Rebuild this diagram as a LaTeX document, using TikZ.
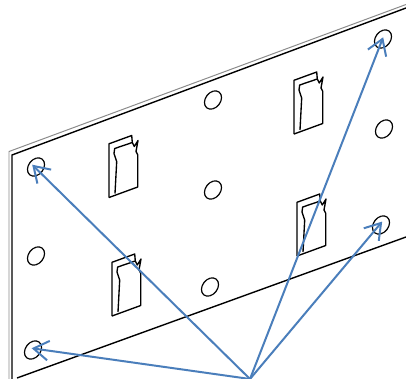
\documentclass[tikz,border=0pt]{standalone}
\usetikzlibrary{shapes.geometric,calc}
\definecolor{arrowblue}{HTML}{4A7EBB}
\tikzset{
  hole/.style={draw=black,line width=1.2pt,ellipse,inner sep=0pt,minimum width=20bp,minimum height=15bp,rotate=52},
  edgeline/.style={draw=black,line width=1.4pt},
  greyline/.style={draw=black!45,line width=1pt},
  pointer/.style={draw=arrowblue,line width=2pt,line join=miter},
  pics/clipshape/.style={code={
    \draw[line width=1.35pt,line join=round] (0,0) -- (0,-53.7) -- (22.7,-62) -- (23.3,-55) -- (5.7,-49) -- (5,-44) -- (7.7,-36) -- (6,-4);
    \draw[line width=1.35pt,line join=round] (23.3,-55) -- (25.3,-51) -- (29,-57) -- (27,-46) -- (28.7,-42.7) -- (28.7,-10.5) -- (0,0);
  }}
}
\newcommand{\pointerto}[2]{%
  \draw[pointer] (#1) -- (#2);
  \draw[pointer] ($(#2)!18bp!33:(#1)$) -- (#2) -- ($(#2)!18bp!-33:(#1)$);
}
\begin{document}
\begin{tikzpicture}[x=1bp,y=-1bp]
\useasboundingbox (0,0) rectangle (406,379);
\fill[white] (0,0) rectangle (406,379);
% plate outline
\coordinate (topL) at (12,155);
\coordinate (topR) at (406,8);
\coordinate (backL) at (9,151.5);
\coordinate (backR) at (406,4.5);
\coordinate (leftB) at (12,379);
\coordinate (backB) at (9,379);
\coordinate (botL) at (17,378);
\coordinate (botR) at (406,237);
\draw[greyline] (backB) -- (backL) -- (backR);
\draw[edgeline] (leftB) -- (topL) -- (topR);
\draw[edgeline] (botL) -- (botR);
% holes
\node[hole] (h1) at (36,167) {};
\node[hole] (h2) at (36,256) {};
\node[hole] (h3) at (33,350) {};
\node[hole] (h4) at (213,100) {};
\node[hole] (h5) at (213,190) {};
\node[hole] (h6) at (210,287) {};
\node[hole] (h7) at (383,39) {};
\node[hole] (h8) at (384,129) {};
\node[hole] (h9) at (381,225) {};
% clips
\pic (c1) at (109,197.5) {clipshape};
\pic (c2) at (294,134) {clipshape};
\pic (c3) at (297,256) {clipshape};
\pic (c4) at (112,316) {clipshape};
% pointers
\coordinate (src) at (250,379);
\coordinate (t1) at (33.5,166);
\coordinate (t3) at (33.5,348.5);
\coordinate (t7) at (382.5,39);
\coordinate (t9) at (381,223);
\pointerto{src}{t1}
\pointerto{src}{t3}
\pointerto{src}{t7}
\pointerto{src}{t9}
\end{tikzpicture}
\end{document}
